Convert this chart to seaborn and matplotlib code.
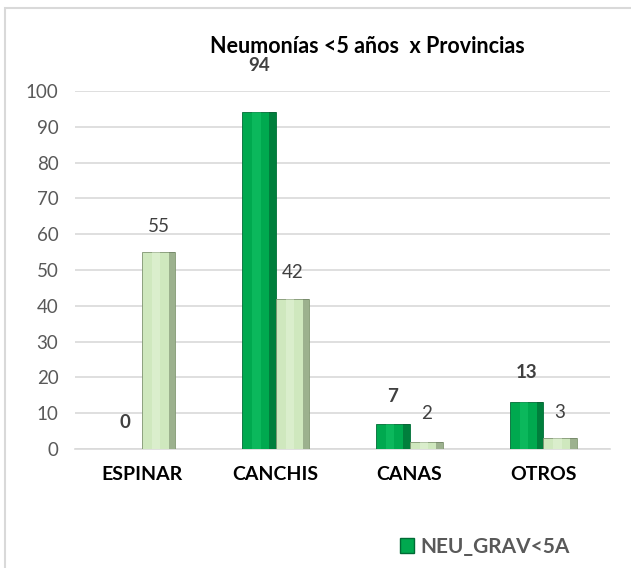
import matplotlib
matplotlib.use("Agg")
import matplotlib.pyplot as plt
import matplotlib.patches as mpatches
import seaborn as sns
import pandas as pd

categories = ["ESPINAR", "CANCHIS", "CANAS", "OTROS"]
series_names = ["NEU_GRAV<5A", "NEU<5A"]
grav_values = [0, 94, 7, 13]
other_values = [55, 42, 2, 3]
y_ticks = [0, 10, 20, 30, 40, 50, 60, 70, 80, 90, 100]
title = "Neumonías <5 años  x Provincias"

df = pd.DataFrame({
    "Provincia": categories * 2,
    "Serie": [series_names[0]] * 4 + [series_names[1]] * 4,
    "Valor": grav_values + other_values,
})

sns.set_theme(style="white")
plt.rcParams["font.family"] = ["Lato", "DejaVu Sans"]

dark = "#00A94F"
light = "#CFE8BE"
fig = plt.figure(figsize=(6.31, 5.68), dpi=100)
ax = fig.add_axes([0.119, 0.2095, 0.848, 0.6303])

sns.barplot(data=df, x="Provincia", y="Valor", hue="Serie", order=categories,
            hue_order=series_names, palette=[dark, light], width=0.5,
            saturation=1, ax=ax, legend=False, zorder=3)

ax.set_ylim(0, 100)
ax.set_yticks(y_ticks)
ax.set_xlim(-0.5, 3.5)
ax.yaxis.grid(True, color="#D9D9D9", linewidth=1.2, zorder=0)
ax.set_axisbelow(True)
for s in ["left", "right", "top"]:
    ax.spines[s].set_visible(False)
ax.spines["bottom"].set_color("#D9D9D9")
ax.spines["bottom"].set_linewidth(1.2)
ax.set_xlabel("")
ax.set_ylabel("")
ax.tick_params(axis="y", length=0, labelsize=13.5, labelcolor="#595959", pad=12)
ax.tick_params(axis="x", length=0, labelsize=14, pad=12)
for lbl in ax.get_xticklabels():
    lbl.set_fontweight("bold")
    lbl.set_color("black")

# bevel shading derived from each bar patch geometry
edge_cols = {0: ("#006B35", "#22D575", "#004D26"), 1: ("#7E9470", "#F0FAE8", "#5F6E55")}
containers = ax.containers
for si, cont in enumerate(containers):
    ec, hi, sh = edge_cols[si]
    for p in cont.patches:
        p.set_edgecolor(ec)
        p.set_linewidth(0.6)
        x, y, w, h = p.get_x(), p.get_y(), p.get_width(), p.get_height()
        if h <= 0:
            continue
        ax.add_patch(mpatches.Rectangle((x + w * 0.8, y), w * 0.2, h, color=sh, alpha=0.45, zorder=4, lw=0))
        ax.add_patch(mpatches.Rectangle((x + w * 0.3, y), w * 0.25, h, color=hi, alpha=0.35, zorder=4, lw=0))

# data labels
offsets = [[27, 47, 27, 30], [26, 26, 28, 26]]
for si, cont in enumerate(containers):
    vals = grav_values if si == 0 else other_values
    for i, p in enumerate(cont.patches):
        cx = p.get_x() + p.get_width() / 2
        ax.annotate(str(vals[i]), (cx, vals[i]), xytext=(0, offsets[si][i]),
                    textcoords="offset pixels", ha="center", va="center",
                    fontsize=13.5, fontweight="bold" if si == 0 else "normal",
                    color="#404040", annotation_clip=False, zorder=6)

fig.text(0.582, 0.918, title, ha="center", va="center", fontsize=15.5,
         fontweight="bold", color="black")

handle = mpatches.Patch(facecolor=dark, edgecolor="#006B35", label=series_names[0])
fig.legend(handles=[handle], loc="center", bbox_to_anchor=(0.768, 0.037),
           frameon=False, handlelength=0.7, handleheight=0.7,
           handletextpad=0.3, prop={"weight": "bold", "size": 15})
for t in fig.legends[0].get_texts():
    t.set_color("#595959")

fig.add_artist(mpatches.Rectangle((0.008, -0.02), 1.05, 1.006, transform=fig.transFigure,
                                  fill=False, edgecolor="#D9D9D9", linewidth=1.5))

fig.savefig("out.png", dpi=100)
